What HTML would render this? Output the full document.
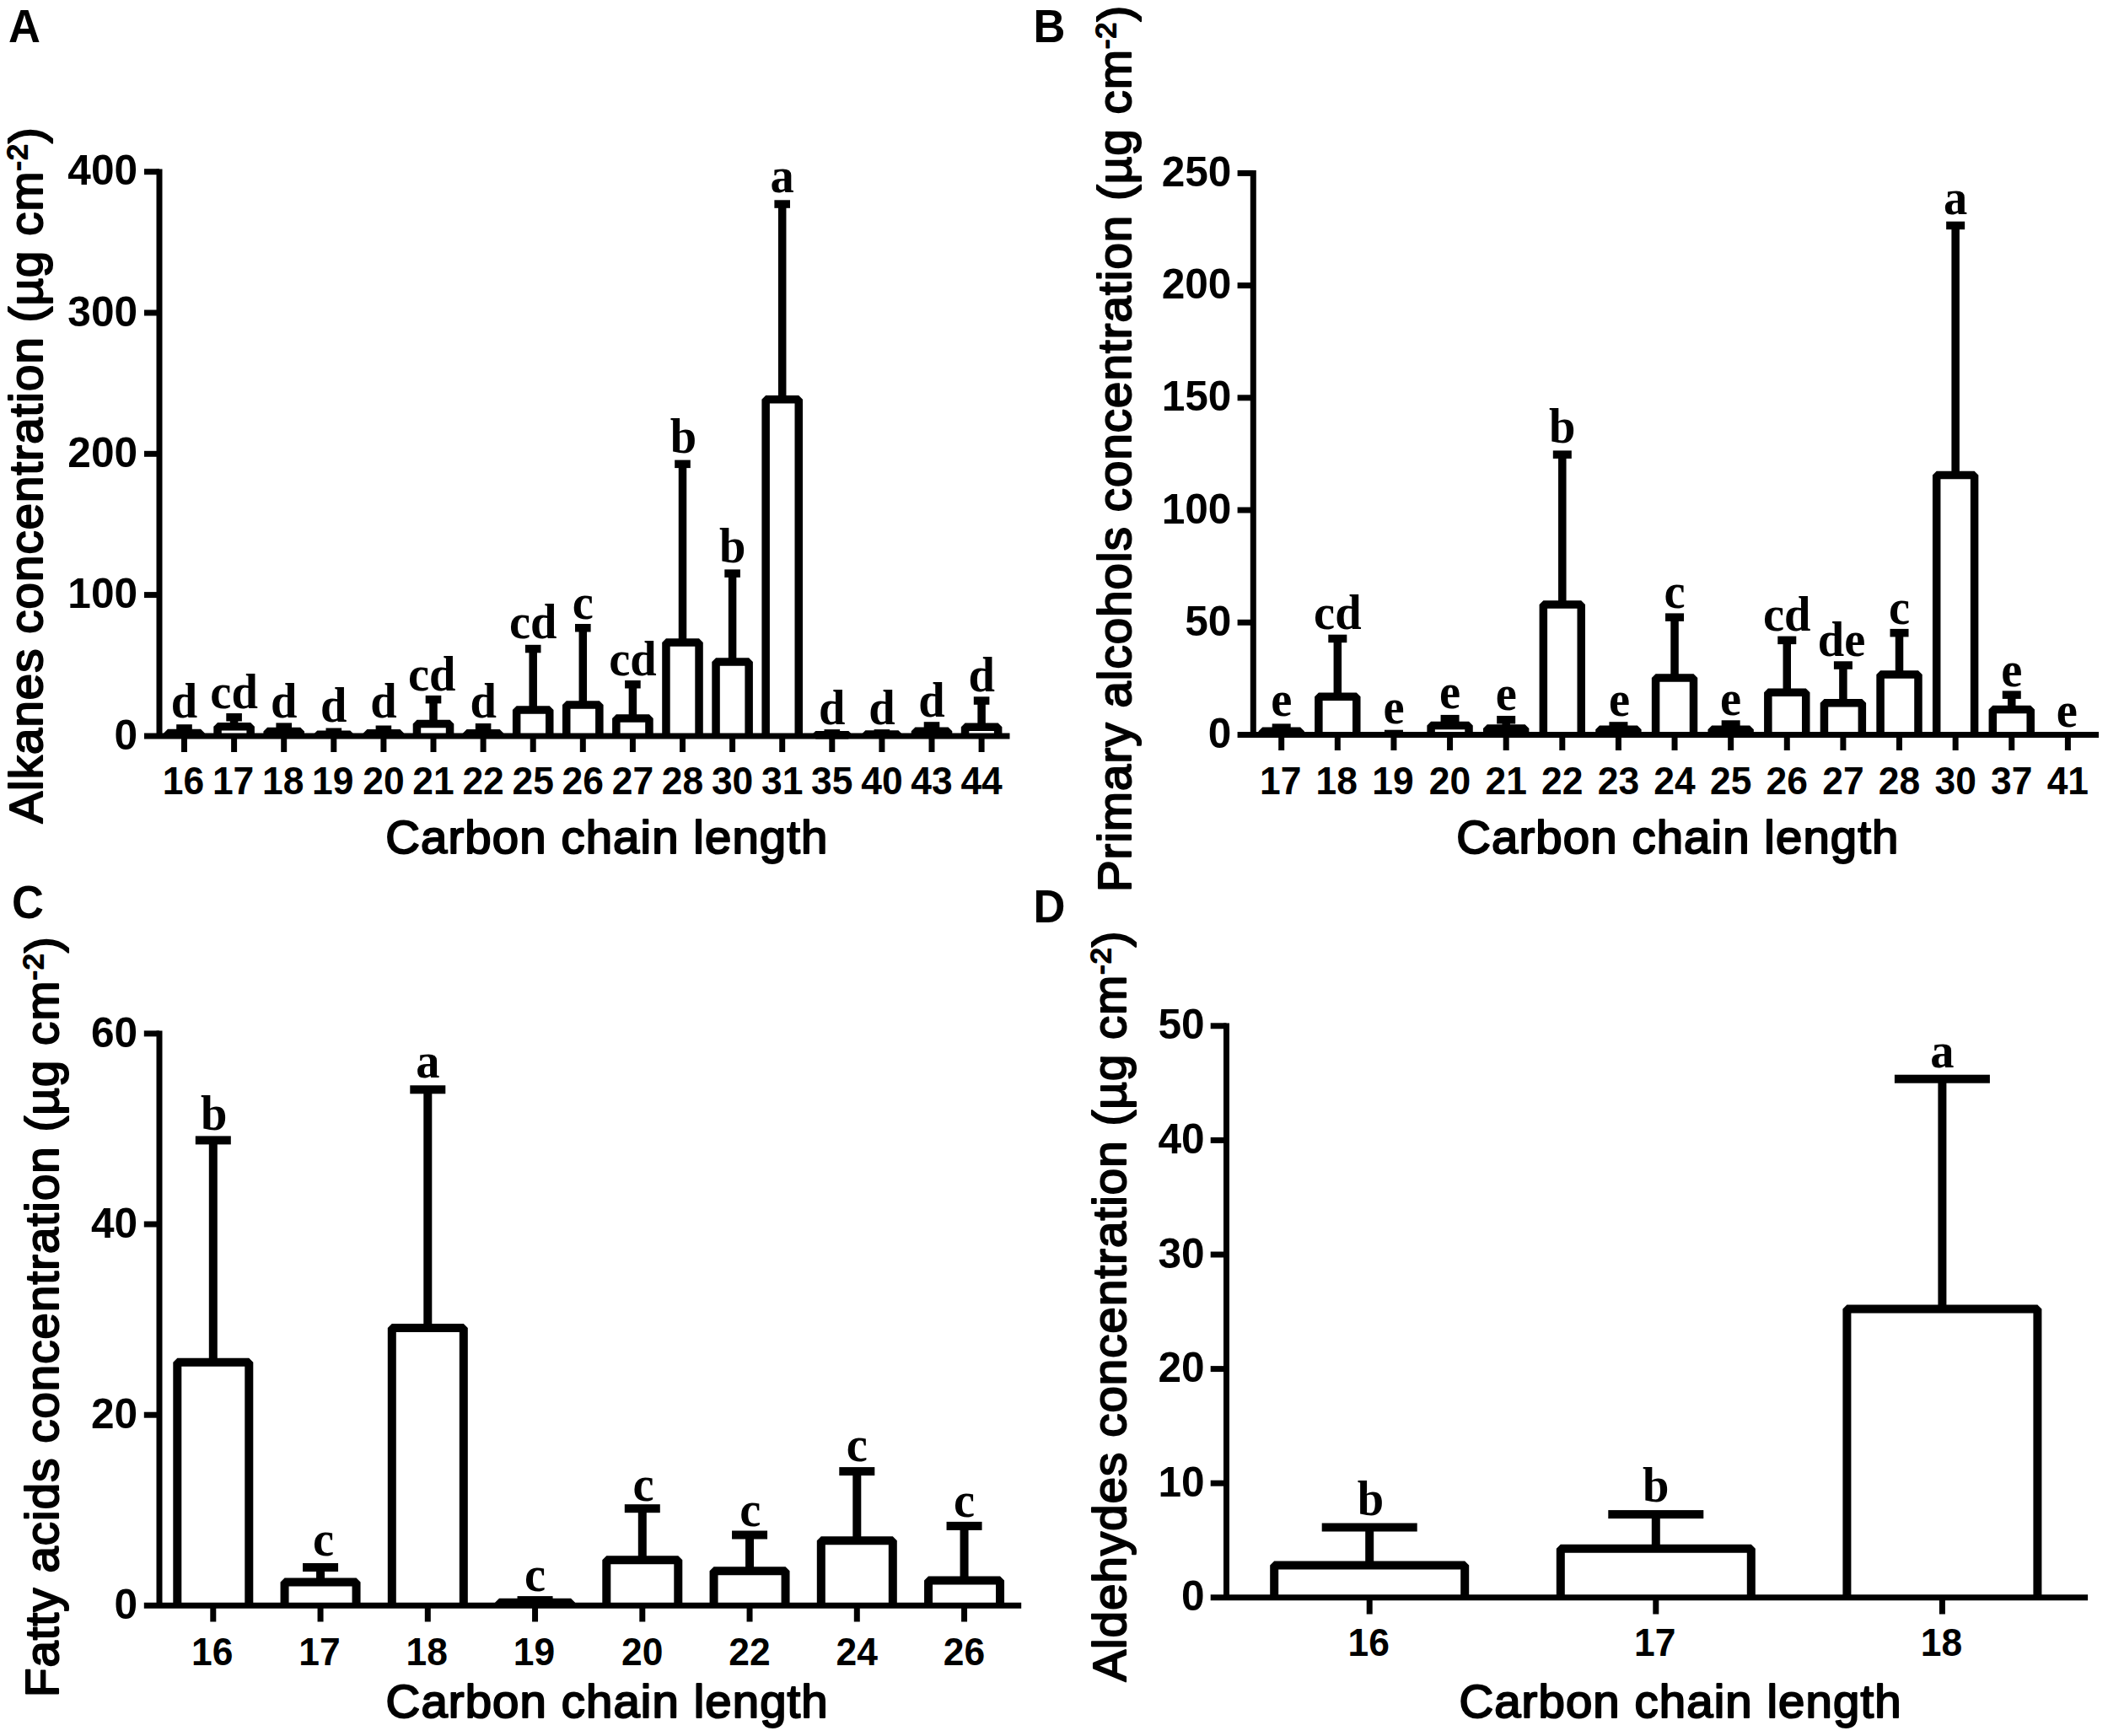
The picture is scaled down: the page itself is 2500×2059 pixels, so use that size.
<!DOCTYPE html>
<html lang="en"><head><meta charset="utf-8"><title>Figure</title>
<style>
html,body{margin:0;padding:0;background:#fff}
svg{display:block}
.bar{fill:#fff;stroke:#000;stroke-linejoin:bevel;stroke-linecap:butt}
.err{fill:none;stroke:#000;stroke-linecap:butt}
.ax{fill:none;stroke:#000;stroke-width:7;stroke-linecap:butt}
text{fill:#000}
.yt{font:bold 49.6px "Liberation Sans", Arial, Helvetica, sans-serif;text-anchor:end}
.xt{font:bold 44.4px "Liberation Sans", Arial, Helvetica, sans-serif;text-anchor:middle}
.lt{font:bold 59.5px "Liberation Serif", "Times New Roman", Times, serif;text-anchor:middle}
.ti{font:56.3px "Liberation Sans", Arial, Helvetica, sans-serif;letter-spacing:1.12px;stroke:#000;stroke-width:2.1px;stroke-linejoin:round}
.sup{font-size:34px}
.pl{font:bold 52.5px "Liberation Sans", Arial, Helvetica, sans-serif}
</style></head>
<body>
<svg width="2500" height="2059" viewBox="0 0 2500 2059">
<rect width="2500" height="2059" fill="#fff"/>
<g id="panelA">
<path class="bar" stroke-width="9.5" d="M198.95 872.9 V869.45 H238.05 V872.9"/>
<path class="err" stroke-width="9.5" d="M218.5 863.95V869.45"/>
<rect x="209.2" y="859.2" width="18.6" height="9.5"/>
<path class="bar" stroke-width="9.5" d="M258.05 872.9 V861.85 H297.15 V872.9"/>
<path class="err" stroke-width="9.5" d="M277.6 850.75V861.85"/>
<rect x="268.3" y="846" width="18.6" height="9.5"/>
<path class="bar" stroke-width="9.5" d="M317.15 872.9 V867.45 H356.25 V872.9"/>
<path class="err" stroke-width="9.5" d="M336.7 862.15V867.45"/>
<rect x="327.4" y="857.4" width="18.6" height="9.5"/>
<path class="bar" stroke-width="9.5" d="M376.25 872.9 V871.25 H415.35 V872.9"/>
<path class="err" stroke-width="9.5" d="M395.8 868.25V871.25"/>
<rect x="386.5" y="863.5" width="18.6" height="9.4"/>
<path class="bar" stroke-width="9.5" d="M435.35 872.9 V869.75 H474.45 V872.9"/>
<path class="err" stroke-width="9.5" d="M454.9 865.25V869.75"/>
<rect x="445.6" y="860.5" width="18.6" height="9.5"/>
<path class="bar" stroke-width="9.5" d="M494.45 872.9 V858.55 H533.55 V872.9"/>
<path class="err" stroke-width="9.5" d="M514 829.65V858.55"/>
<rect x="504.7" y="824.9" width="18.6" height="9.5"/>
<path class="bar" stroke-width="9.5" d="M553.55 872.9 V869.75 H592.65 V872.9"/>
<path class="err" stroke-width="9.5" d="M573.1 862.75V869.75"/>
<rect x="563.8" y="858" width="18.6" height="9.5"/>
<path class="bar" stroke-width="9.5" d="M612.65 872.9 V841.95 H651.75 V872.9"/>
<path class="err" stroke-width="9.5" d="M632.2 769.55V841.95"/>
<rect x="622.9" y="764.8" width="18.6" height="9.5"/>
<path class="bar" stroke-width="9.5" d="M671.75 872.9 V836.05 H710.85 V872.9"/>
<path class="err" stroke-width="9.5" d="M691.3 744.75V836.05"/>
<rect x="682" y="740" width="18.6" height="9.5"/>
<path class="bar" stroke-width="9.5" d="M730.85 872.9 V851.95 H769.95 V872.9"/>
<path class="err" stroke-width="9.5" d="M750.4 811.75V851.95"/>
<rect x="741.1" y="807" width="18.6" height="9.5"/>
<path class="bar" stroke-width="9.5" d="M789.95 872.9 V762.05 H829.05 V872.9"/>
<path class="err" stroke-width="9.5" d="M809.5 550.35V762.05"/>
<rect x="800.2" y="545.6" width="18.6" height="9.5"/>
<path class="bar" stroke-width="9.5" d="M849.05 872.9 V785.05 H888.15 V872.9"/>
<path class="err" stroke-width="9.5" d="M868.6 680.15V785.05"/>
<rect x="859.3" y="675.4" width="18.6" height="9.5"/>
<path class="bar" stroke-width="9.5" d="M908.15 872.9 V473.75 H947.25 V872.9"/>
<path class="err" stroke-width="9.5" d="M927.7 242.05V473.75"/>
<rect x="918.4" y="237.3" width="18.6" height="9.5"/>
<path class="bar" stroke-width="9.5" d="M967.25 872.9 V871.75 H1006.35 V872.9"/>
<path class="err" stroke-width="9.5" d="M986.8 869.85V871.75"/>
<rect x="977.5" y="865.1" width="18.6" height="7.8"/>
<path class="bar" stroke-width="9.5" d="M1026.35 872.9 V871.05 H1065.45 V872.9"/>
<path class="err" stroke-width="9.5" d="M1045.9 869.85V871.05"/>
<rect x="1036.6" y="865.1" width="18.6" height="7.8"/>
<path class="bar" stroke-width="9.5" d="M1085.45 872.9 V867.15 H1124.55 V872.9"/>
<path class="err" stroke-width="9.5" d="M1105 860.95V867.15"/>
<rect x="1095.7" y="856.2" width="18.6" height="9.5"/>
<path class="bar" stroke-width="9.5" d="M1144.55 872.9 V862.25 H1183.65 V872.9"/>
<path class="err" stroke-width="9.5" d="M1164.1 831.05V862.25"/>
<rect x="1154.8" y="826.3" width="18.6" height="9.5"/>
<path class="ax" d="M171 872.9H1197.5"/>
<path class="ax" d="M189 200.4V872.9"/>
<path class="ax" d="M171 203.7H189"/>
<text class="yt" transform="translate(163.1 219.3) scale(1 1)">400</text>
<path class="ax" d="M171 371H189"/>
<text class="yt" transform="translate(163.1 386.6) scale(1 1)">300</text>
<path class="ax" d="M171 538.3H189"/>
<text class="yt" transform="translate(163.1 553.9) scale(1 1)">200</text>
<path class="ax" d="M171 705.6H189"/>
<text class="yt" transform="translate(163.1 721.2) scale(1 1)">100</text>
<text class="yt" transform="translate(163.1 888.5) scale(1 1)">0</text>
<path class="ax" d="M218.5 872.9V892"/>
<text class="xt" transform="translate(217.5 941.7) scale(1 1.037)">16</text>
<path class="ax" d="M277.6 872.9V892"/>
<text class="xt" transform="translate(276.6 941.7) scale(1 1.037)">17</text>
<path class="ax" d="M336.7 872.9V892"/>
<text class="xt" transform="translate(335.7 941.7) scale(1 1.037)">18</text>
<path class="ax" d="M395.8 872.9V892"/>
<text class="xt" transform="translate(394.8 941.7) scale(1 1.037)">19</text>
<path class="ax" d="M454.9 872.9V892"/>
<text class="xt" transform="translate(454.9 941.7) scale(1 1.037)">20</text>
<path class="ax" d="M514 872.9V892"/>
<text class="xt" transform="translate(514 941.7) scale(1 1.037)">21</text>
<path class="ax" d="M573.1 872.9V892"/>
<text class="xt" transform="translate(573.1 941.7) scale(1 1.037)">22</text>
<path class="ax" d="M632.2 872.9V892"/>
<text class="xt" transform="translate(632.2 941.7) scale(1 1.037)">25</text>
<path class="ax" d="M691.3 872.9V892"/>
<text class="xt" transform="translate(691.3 941.7) scale(1 1.037)">26</text>
<path class="ax" d="M750.4 872.9V892"/>
<text class="xt" transform="translate(750.4 941.7) scale(1 1.037)">27</text>
<path class="ax" d="M809.5 872.9V892"/>
<text class="xt" transform="translate(809.5 941.7) scale(1 1.037)">28</text>
<path class="ax" d="M868.6 872.9V892"/>
<text class="xt" transform="translate(868.6 941.7) scale(1 1.037)">30</text>
<path class="ax" d="M927.7 872.9V892"/>
<text class="xt" transform="translate(927.7 941.7) scale(1 1.037)">31</text>
<path class="ax" d="M986.8 872.9V892"/>
<text class="xt" transform="translate(986.8 941.7) scale(1 1.037)">35</text>
<path class="ax" d="M1045.9 872.9V892"/>
<text class="xt" transform="translate(1045.9 941.7) scale(1 1.037)">40</text>
<path class="ax" d="M1105 872.9V892"/>
<text class="xt" transform="translate(1105 941.7) scale(1 1.037)">43</text>
<path class="ax" d="M1164.1 872.9V892"/>
<text class="xt" transform="translate(1164.1 941.7) scale(1 1.037)">44</text>
<text class="lt" transform="translate(218.5 850.6) scale(0.95 1)">d</text>
<text class="lt" transform="translate(277.6 840) scale(0.95 1)">cd</text>
<text class="lt" transform="translate(336.7 850.6) scale(0.95 1)">d</text>
<text class="lt" transform="translate(395.8 855.9) scale(0.95 1)">d</text>
<text class="lt" transform="translate(454.9 850.6) scale(0.95 1)">d</text>
<text class="lt" transform="translate(512.2 819.2) scale(0.95 1)">cd</text>
<text class="lt" transform="translate(573.1 850.5) scale(0.95 1)">d</text>
<text class="lt" transform="translate(632.2 756.5) scale(0.95 1)">cd</text>
<text class="lt" transform="translate(691.3 734) scale(0.95 1)">c</text>
<text class="lt" transform="translate(750.4 800.7) scale(0.95 1)">cd</text>
<text class="lt" transform="translate(810.5 537.3) scale(0.95 1)">b</text>
<text class="lt" transform="translate(868.6 667.1) scale(0.95 1)">b</text>
<text class="lt" transform="translate(927.7 228.3) scale(0.95 1)">a</text>
<text class="lt" transform="translate(986.8 858.8) scale(0.95 1)">d</text>
<text class="lt" transform="translate(1045.9 858.8) scale(0.95 1)">d</text>
<text class="lt" transform="translate(1105 850) scale(0.95 1)">d</text>
<text class="lt" transform="translate(1164.1 820) scale(0.95 1)">d</text>
<text class="ti" transform="translate(457.3 1012.3)">Carbon chain length</text>
<text class="ti" transform="translate(50.4 976.6) rotate(-90) scale(1 1)">Alkanes concentration (µg cm<tspan class="sup" dy="-18">-2</tspan><tspan dy="18">)</tspan></text>
<text class="pl" transform="translate(10.1 49.8) scale(1 1.044)">A</text>
</g>
<g id="panelB">
<path class="bar" stroke-width="9.5" d="M1497.25 871.5 V867.25 H1542.15 V871.5"/>
<path class="err" stroke-width="9.5" d="M1519.7 863.15V867.25"/>
<rect x="1508.7" y="858.4" width="22" height="9.5"/>
<path class="bar" stroke-width="9.5" d="M1563.87 871.5 V826.15 H1608.77 V871.5"/>
<path class="err" stroke-width="9.5" d="M1586.32 757.45V826.15"/>
<rect x="1575.32" y="752.7" width="22" height="9.5"/>
<path class="err" stroke-width="9.5" d="M1652.94 870.45V871.5"/>
<rect x="1641.94" y="865.7" width="22" height="5.8"/>
<path class="bar" stroke-width="9.5" d="M1697.11 871.5 V860.45 H1742.01 V871.5"/>
<path class="err" stroke-width="9.5" d="M1719.56 852.65V860.45"/>
<rect x="1708.56" y="847.9" width="22" height="9.5"/>
<path class="bar" stroke-width="9.5" d="M1763.73 871.5 V864.05 H1808.63 V871.5"/>
<path class="err" stroke-width="9.5" d="M1786.18 853.75V864.05"/>
<rect x="1775.18" y="849" width="22" height="9.5"/>
<path class="bar" stroke-width="9.5" d="M1830.35 871.5 V717.05 H1875.25 V871.5"/>
<path class="err" stroke-width="9.5" d="M1852.8 539.15V717.05"/>
<rect x="1841.8" y="534.4" width="22" height="9.5"/>
<path class="bar" stroke-width="9.5" d="M1896.97 871.5 V865.15 H1941.87 V871.5"/>
<path class="err" stroke-width="9.5" d="M1919.42 860.95V865.15"/>
<rect x="1908.42" y="856.2" width="22" height="9.5"/>
<path class="bar" stroke-width="9.5" d="M1963.59 871.5 V803.95 H2008.49 V871.5"/>
<path class="err" stroke-width="9.5" d="M1986.04 732.15V803.95"/>
<rect x="1975.04" y="727.4" width="22" height="9.5"/>
<path class="bar" stroke-width="9.5" d="M2030.21 871.5 V865.15 H2075.11 V871.5"/>
<path class="err" stroke-width="9.5" d="M2052.66 859.05V865.15"/>
<rect x="2041.66" y="854.3" width="22" height="9.5"/>
<path class="bar" stroke-width="9.5" d="M2096.83 871.5 V821.35 H2141.73 V871.5"/>
<path class="err" stroke-width="9.5" d="M2119.28 759.35V821.35"/>
<rect x="2108.28" y="754.6" width="22" height="9.5"/>
<path class="bar" stroke-width="9.5" d="M2163.45 871.5 V833.65 H2208.35 V871.5"/>
<path class="err" stroke-width="9.5" d="M2185.9 789.05V833.65"/>
<rect x="2174.9" y="784.3" width="22" height="9.5"/>
<path class="bar" stroke-width="9.5" d="M2230.07 871.5 V799.95 H2274.97 V871.5"/>
<path class="err" stroke-width="9.5" d="M2252.52 750.65V799.95"/>
<rect x="2241.52" y="745.9" width="22" height="9.5"/>
<path class="bar" stroke-width="9.5" d="M2296.69 871.5 V563.45 H2341.59 V871.5"/>
<path class="err" stroke-width="9.5" d="M2319.14 267.45V563.45"/>
<rect x="2308.14" y="262.7" width="22" height="9.5"/>
<path class="bar" stroke-width="9.5" d="M2363.31 871.5 V841.45 H2408.21 V871.5"/>
<path class="err" stroke-width="9.5" d="M2385.76 824.15V841.45"/>
<rect x="2374.76" y="819.4" width="22" height="9.5"/>
<path class="ax" d="M1467.6 871.5H2489"/>
<path class="ax" d="M1486.3 202V871.5"/>
<path class="ax" d="M1467.6 205.4H1486.3"/>
<text class="yt" transform="translate(1460.4 221) scale(1 1)">250</text>
<path class="ax" d="M1467.6 338.6H1486.3"/>
<text class="yt" transform="translate(1460.4 354.2) scale(1 1)">200</text>
<path class="ax" d="M1467.6 471.8H1486.3"/>
<text class="yt" transform="translate(1460.4 487.4) scale(1 1)">150</text>
<path class="ax" d="M1467.6 605H1486.3"/>
<text class="yt" transform="translate(1460.4 620.6) scale(1 1)">100</text>
<path class="ax" d="M1467.6 738.3H1486.3"/>
<text class="yt" transform="translate(1460.4 753.9) scale(1 1)">50</text>
<text class="yt" transform="translate(1460.4 887.1) scale(1 1)">0</text>
<path class="ax" d="M1519.7 871.5V890"/>
<text class="xt" transform="translate(1518.7 941.6) scale(1 1.037)">17</text>
<path class="ax" d="M1586.32 871.5V890"/>
<text class="xt" transform="translate(1585.32 941.6) scale(1 1.037)">18</text>
<path class="ax" d="M1652.94 871.5V890"/>
<text class="xt" transform="translate(1651.94 941.6) scale(1 1.037)">19</text>
<path class="ax" d="M1719.56 871.5V890"/>
<text class="xt" transform="translate(1719.56 941.6) scale(1 1.037)">20</text>
<path class="ax" d="M1786.18 871.5V890"/>
<text class="xt" transform="translate(1786.18 941.6) scale(1 1.037)">21</text>
<path class="ax" d="M1852.8 871.5V890"/>
<text class="xt" transform="translate(1852.8 941.6) scale(1 1.037)">22</text>
<path class="ax" d="M1919.42 871.5V890"/>
<text class="xt" transform="translate(1919.42 941.6) scale(1 1.037)">23</text>
<path class="ax" d="M1986.04 871.5V890"/>
<text class="xt" transform="translate(1986.04 941.6) scale(1 1.037)">24</text>
<path class="ax" d="M2052.66 871.5V890"/>
<text class="xt" transform="translate(2052.66 941.6) scale(1 1.037)">25</text>
<path class="ax" d="M2119.28 871.5V890"/>
<text class="xt" transform="translate(2119.28 941.6) scale(1 1.037)">26</text>
<path class="ax" d="M2185.9 871.5V890"/>
<text class="xt" transform="translate(2185.9 941.6) scale(1 1.037)">27</text>
<path class="ax" d="M2252.52 871.5V890"/>
<text class="xt" transform="translate(2252.52 941.6) scale(1 1.037)">28</text>
<path class="ax" d="M2319.14 871.5V890"/>
<text class="xt" transform="translate(2319.14 941.6) scale(1 1.037)">30</text>
<path class="ax" d="M2385.76 871.5V890"/>
<text class="xt" transform="translate(2385.76 941.6) scale(1 1.037)">37</text>
<path class="ax" d="M2452.38 871.5V890"/>
<text class="xt" transform="translate(2452.38 941.6) scale(1 1.037)">41</text>
<text class="lt" transform="translate(1519.7 849.1) scale(0.95 1)">e</text>
<text class="lt" transform="translate(1586.32 746.3) scale(0.95 1)">cd</text>
<text class="lt" transform="translate(1652.94 857.5) scale(0.95 1)">e</text>
<text class="lt" transform="translate(1719.56 840.3) scale(0.95 1)">e</text>
<text class="lt" transform="translate(1786.18 841.5) scale(0.95 1)">e</text>
<text class="lt" transform="translate(1852.8 525) scale(0.95 1)">b</text>
<text class="lt" transform="translate(1920.42 849) scale(0.95 1)">e</text>
<text class="lt" transform="translate(1986.04 721) scale(0.95 1)">c</text>
<text class="lt" transform="translate(2052.66 847.9) scale(0.95 1)">e</text>
<text class="lt" transform="translate(2119.28 748.2) scale(0.95 1)">cd</text>
<text class="lt" transform="translate(2184.1 778.4) scale(0.95 1)">de</text>
<text class="lt" transform="translate(2252.52 740) scale(0.95 1)">c</text>
<text class="lt" transform="translate(2319.14 254.4) scale(0.95 1)">a</text>
<text class="lt" transform="translate(2385.76 813.5) scale(0.95 1)">e</text>
<text class="lt" transform="translate(2451.38 861.6) scale(0.95 1)">e</text>
<text class="ti" transform="translate(1727.3 1012.3)">Carbon chain length</text>
<text class="ti" transform="translate(1340.8 1058.1) rotate(-90) scale(1 1)">Primary alcohols concentration (µg cm<tspan class="sup" dy="-18">-2</tspan><tspan dy="18">)</tspan></text>
<text class="pl" transform="translate(1225.5 50.3) scale(1 1.044)">B</text>
</g>
<g id="panelC">
<path class="bar" stroke-width="10" d="M210.3 1904.3 V1615.8 H295.3 V1904.3"/>
<path class="err" stroke-width="10" d="M252.8 1352.4V1615.8"/>
<rect x="231.8" y="1347.4" width="42" height="10"/>
<path class="bar" stroke-width="10" d="M337.55 1904.3 V1876.5 H422.55 V1904.3"/>
<path class="err" stroke-width="10" d="M380.05 1859V1876.5"/>
<rect x="359.05" y="1854" width="42" height="10"/>
<path class="bar" stroke-width="10" d="M464.8 1904.3 V1575.1 H549.8 V1904.3"/>
<path class="err" stroke-width="10" d="M507.3 1292.3V1575.1"/>
<rect x="486.3" y="1287.3" width="42" height="10"/>
<path class="bar" stroke-width="10" d="M592.05 1904.3 V1900.7 H677.05 V1904.3"/>
<path class="err" stroke-width="10" d="M634.55 1898.1V1900.7"/>
<rect x="613.55" y="1893.1" width="42" height="10"/>
<path class="bar" stroke-width="10" d="M719.3 1904.3 V1850.2 H804.3 V1904.3"/>
<path class="err" stroke-width="10" d="M761.8 1789.2V1850.2"/>
<rect x="740.8" y="1784.2" width="42" height="10"/>
<path class="bar" stroke-width="10" d="M846.55 1904.3 V1863.2 H931.55 V1904.3"/>
<path class="err" stroke-width="10" d="M889.05 1820.5V1863.2"/>
<rect x="868.05" y="1815.5" width="42" height="10"/>
<path class="bar" stroke-width="10" d="M973.8 1904.3 V1827.2 H1058.8 V1904.3"/>
<path class="err" stroke-width="10" d="M1016.3 1745.1V1827.2"/>
<rect x="995.3" y="1740.1" width="42" height="10"/>
<path class="bar" stroke-width="10" d="M1101.05 1904.3 V1874.6 H1186.05 V1904.3"/>
<path class="err" stroke-width="10" d="M1143.55 1809.9V1874.6"/>
<rect x="1122.55" y="1804.9" width="42" height="10"/>
<path class="ax" d="M170.8 1904.3H1211.2"/>
<path class="ax" d="M189 1222.6V1904.3"/>
<path class="ax" d="M170.8 1225.9H189"/>
<text class="yt" transform="translate(163.1 1241.5) scale(1 1)">60</text>
<path class="ax" d="M170.8 1452H189"/>
<text class="yt" transform="translate(163.1 1467.6) scale(1 1)">40</text>
<path class="ax" d="M170.8 1678.2H189"/>
<text class="yt" transform="translate(163.1 1693.8) scale(1 1)">20</text>
<text class="yt" transform="translate(163.1 1919.9) scale(1 1)">0</text>
<path class="ax" d="M252.8 1904.3V1923.5"/>
<text class="xt" transform="translate(251.8 1974.7) scale(1 1.037)">16</text>
<path class="ax" d="M380.05 1904.3V1923.5"/>
<text class="xt" transform="translate(379.05 1974.7) scale(1 1.037)">17</text>
<path class="ax" d="M507.3 1904.3V1923.5"/>
<text class="xt" transform="translate(506.3 1974.7) scale(1 1.037)">18</text>
<path class="ax" d="M634.55 1904.3V1923.5"/>
<text class="xt" transform="translate(633.55 1974.7) scale(1 1.037)">19</text>
<path class="ax" d="M761.8 1904.3V1923.5"/>
<text class="xt" transform="translate(761.8 1974.7) scale(1 1.037)">20</text>
<path class="ax" d="M889.05 1904.3V1923.5"/>
<text class="xt" transform="translate(889.05 1974.7) scale(1 1.037)">22</text>
<path class="ax" d="M1016.3 1904.3V1923.5"/>
<text class="xt" transform="translate(1016.3 1974.7) scale(1 1.037)">24</text>
<path class="ax" d="M1143.55 1904.3V1923.5"/>
<text class="xt" transform="translate(1143.55 1974.7) scale(1 1.037)">26</text>
<text class="lt" transform="translate(253.8 1339.5) scale(0.95 1)">b</text>
<text class="lt" transform="translate(383.55 1844.7) scale(0.95 1)">c</text>
<text class="lt" transform="translate(507.3 1278.3) scale(0.95 1)">a</text>
<text class="lt" transform="translate(634.55 1887.4) scale(0.95 1)">c</text>
<text class="lt" transform="translate(763.1 1780) scale(0.95 1)">c</text>
<text class="lt" transform="translate(889.85 1810.3) scale(0.95 1)">c</text>
<text class="lt" transform="translate(1016.3 1733) scale(0.95 1)">c</text>
<text class="lt" transform="translate(1143.55 1798.5) scale(0.95 1)">c</text>
<text class="ti" transform="translate(457.6 2037.3)">Carbon chain length</text>
<text class="ti" transform="translate(68.8 2013.1) rotate(-90) scale(1 1)">Fatty acids concentration (µg cm<tspan class="sup" dy="-18">-2</tspan><tspan dy="18">)</tspan></text>
<text class="pl" transform="translate(13.9 1088.8) scale(1 1.044)">C</text>
</g>
<g id="panelD">
<path class="bar" stroke-width="10" d="M1511.2 1894.8 V1856.6 H1737.2 V1894.8"/>
<path class="err" stroke-width="10" d="M1624.2 1811.5V1856.6"/>
<rect x="1567.7" y="1806.5" width="113" height="10"/>
<path class="bar" stroke-width="10" d="M1850.8 1894.8 V1836.7 H2076.8 V1894.8"/>
<path class="err" stroke-width="10" d="M1963.8 1796.1V1836.7"/>
<rect x="1907.3" y="1791.1" width="113" height="10"/>
<path class="bar" stroke-width="10" d="M2190.4 1894.8 V1552.5 H2416.4 V1894.8"/>
<path class="err" stroke-width="10" d="M2303.4 1279.7V1552.5"/>
<rect x="2246.9" y="1274.7" width="113" height="10"/>
<path class="ax" d="M1435.7 1894.8H2476.1"/>
<path class="ax" d="M1454.5 1213.4V1894.8"/>
<path class="ax" d="M1435.7 1216.8H1454.5"/>
<text class="yt" transform="translate(1428.6 1232.4) scale(1 1)">50</text>
<path class="ax" d="M1435.7 1352.4H1454.5"/>
<text class="yt" transform="translate(1428.6 1368) scale(1 1)">40</text>
<path class="ax" d="M1435.7 1488H1454.5"/>
<text class="yt" transform="translate(1428.6 1503.6) scale(1 1)">30</text>
<path class="ax" d="M1435.7 1623.6H1454.5"/>
<text class="yt" transform="translate(1428.6 1639.2) scale(1 1)">20</text>
<path class="ax" d="M1435.7 1759.2H1454.5"/>
<text class="yt" transform="translate(1428.6 1774.8) scale(1 1)">10</text>
<text class="yt" transform="translate(1428.6 1910.4) scale(1 1)">0</text>
<path class="ax" d="M1624.2 1894.8V1914.5"/>
<text class="xt" transform="translate(1623.2 1964.2) scale(1 1.037)">16</text>
<path class="ax" d="M1963.8 1894.8V1914.5"/>
<text class="xt" transform="translate(1962.8 1964.2) scale(1 1.037)">17</text>
<path class="ax" d="M2303.4 1894.8V1914.5"/>
<text class="xt" transform="translate(2302.4 1964.2) scale(1 1.037)">18</text>
<text class="lt" transform="translate(1625.5 1797) scale(0.95 1)">b</text>
<text class="lt" transform="translate(1963.8 1781.2) scale(0.95 1)">b</text>
<text class="lt" transform="translate(2303.4 1265.8) scale(0.95 1)">a</text>
<text class="ti" transform="translate(1730.4 2036.8)">Carbon chain length</text>
<text class="ti" transform="translate(1335.4 1994.6) rotate(-90) scale(1 1)">Aldehydes concentration (µg cm<tspan class="sup" dy="-18">-2</tspan><tspan dy="18">)</tspan></text>
<text class="pl" transform="translate(1225.5 1093.7) scale(1 1.044)">D</text>
</g>
</svg>
</body></html>
